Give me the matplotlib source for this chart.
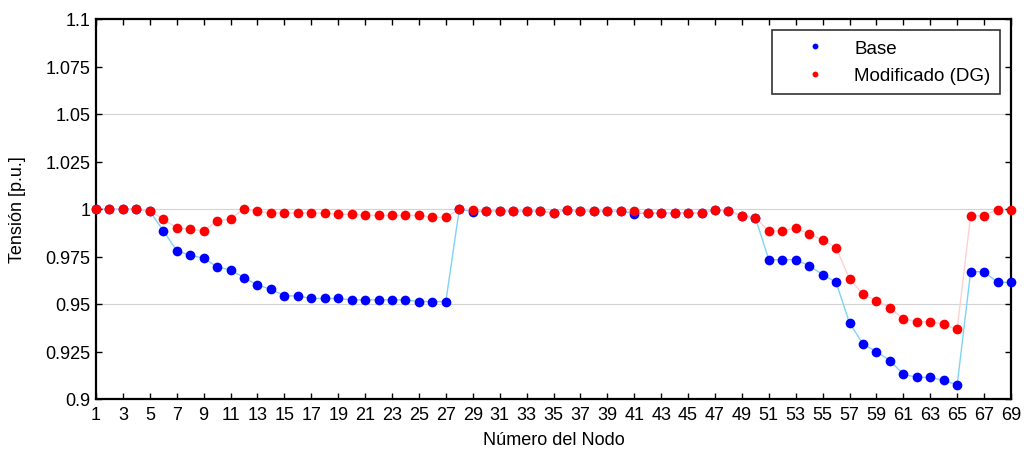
import matplotlib
matplotlib.use("Agg")
import matplotlib.pyplot as plt
import numpy as np

nodes = list(range(1, 70))

base = [1.0, 1.0, 1.0, 1.0, 0.9988, 0.9886, 0.9781, 0.9756, 0.9742, 0.9695,
        0.9679, 0.9639, 0.9599, 0.9578, 0.9543, 0.9543, 0.9529, 0.9529, 0.9529, 0.9522,
        0.9522, 0.9522, 0.9522, 0.9522, 0.9513, 0.9513, 0.9513, 1.0, 0.9986, 0.9988,
        0.9988, 0.9988, 0.9988, 0.9988, 0.998, 0.9995, 0.9988, 0.9988, 0.9988, 0.9988,
        0.9976, 0.998, 0.998, 0.998, 0.998, 0.998, 0.9997, 0.9988, 0.9965, 0.9955,
        0.9733, 0.9733, 0.9733, 0.9702, 0.9655, 0.9614, 0.940, 0.929, 0.9249, 0.9202,
        0.913, 0.9114, 0.9114, 0.9098, 0.9074, 0.967, 0.967, 0.9614, 0.9614]

modificado = [1.0, 1.0, 1.0, 1.0, 0.9988, 0.9947, 0.990, 0.9893, 0.9884, 0.9939,
              0.9947, 1.0002, 0.9988, 0.998, 0.9979, 0.9979, 0.9979, 0.9979, 0.9972, 0.9972,
              0.9967, 0.9966, 0.9966, 0.9966, 0.9966, 0.9956, 0.9956, 1.0, 0.9997, 0.9988,
              0.9988, 0.9988, 0.9988, 0.9988, 0.998, 0.9995, 0.9988, 0.9988, 0.9988, 0.9988,
              0.9988, 0.998, 0.998, 0.998, 0.998, 0.998, 0.9997, 0.9988, 0.9965, 0.9955,
              0.9884, 0.9884, 0.990, 0.9868, 0.9837, 0.9797, 0.9632, 0.9551, 0.9518, 0.9479,
              0.9423, 0.9407, 0.9407, 0.9393, 0.9367, 0.9965, 0.9965, 0.9997, 0.9997]

xticks = list(range(1, 70, 2))
yticks = [0.9, 0.925, 0.95, 0.975, 1.0, 1.025, 1.05, 1.075, 1.1]
ytick_labels = ["0.9", "0.925", "0.95", "0.975", "1", "1.025", "1.05", "1.075", "1.1"]
grid_levels = [0.95, 1.0, 1.05]

plt.rcParams['font.family'] = ['Liberation Sans', 'DejaVu Sans']

fig = plt.figure(figsize=(10.24, 4.52), dpi=100)
ax = fig.add_axes([96/1024, 52/452, 915/1024, 380/452])

for g in grid_levels:
    ax.axhline(g, color='#d4d4d4', lw=0.8, zorder=0)

ax.plot(nodes, base, '-', color='#7fd4f4', lw=1.0, zorder=1)
ax.plot(nodes, modificado, '-', color='#ffd0d0', lw=1.0, zorder=1)
ax.plot(nodes, base, 'o', color='#0000ff', ms=7, mec='none', zorder=3, clip_on=False, label='Base')
ax.plot(nodes, modificado, 'o', color='#ff0000', ms=7, mec='none', zorder=4, clip_on=False,
        label='Modificado (DG)')

ax.set_xlim(1, 69)
ax.set_ylim(0.9, 1.1)
ax.set_xticks(xticks)
ax.set_yticks(yticks)
ax.set_yticklabels(ytick_labels)
ax.tick_params(direction='in', length=4, width=1, labelsize=13, top=True, right=True,
               pad=4, colors='black')
ax.tick_params(axis='x', pad=5)
for s in ax.spines.values():
    s.set_linewidth(1.6)
    s.set_color('black')

ax.set_xlabel('Número del Nodo', fontsize=13, labelpad=6)
ax.set_ylabel('Tensión [p.u.]', fontsize=13, labelpad=14)

leg = ax.legend(loc='upper right', fontsize=13.5, frameon=True, fancybox=False, markerscale=0.6,
                borderaxespad=0.6, handletextpad=0.3, handlelength=3.6, borderpad=0.5,
                labelspacing=0.55)
leg.get_frame().set_edgecolor('black')
leg.get_frame().set_linewidth(1.2)

fig.savefig('out.png', dpi=100)
